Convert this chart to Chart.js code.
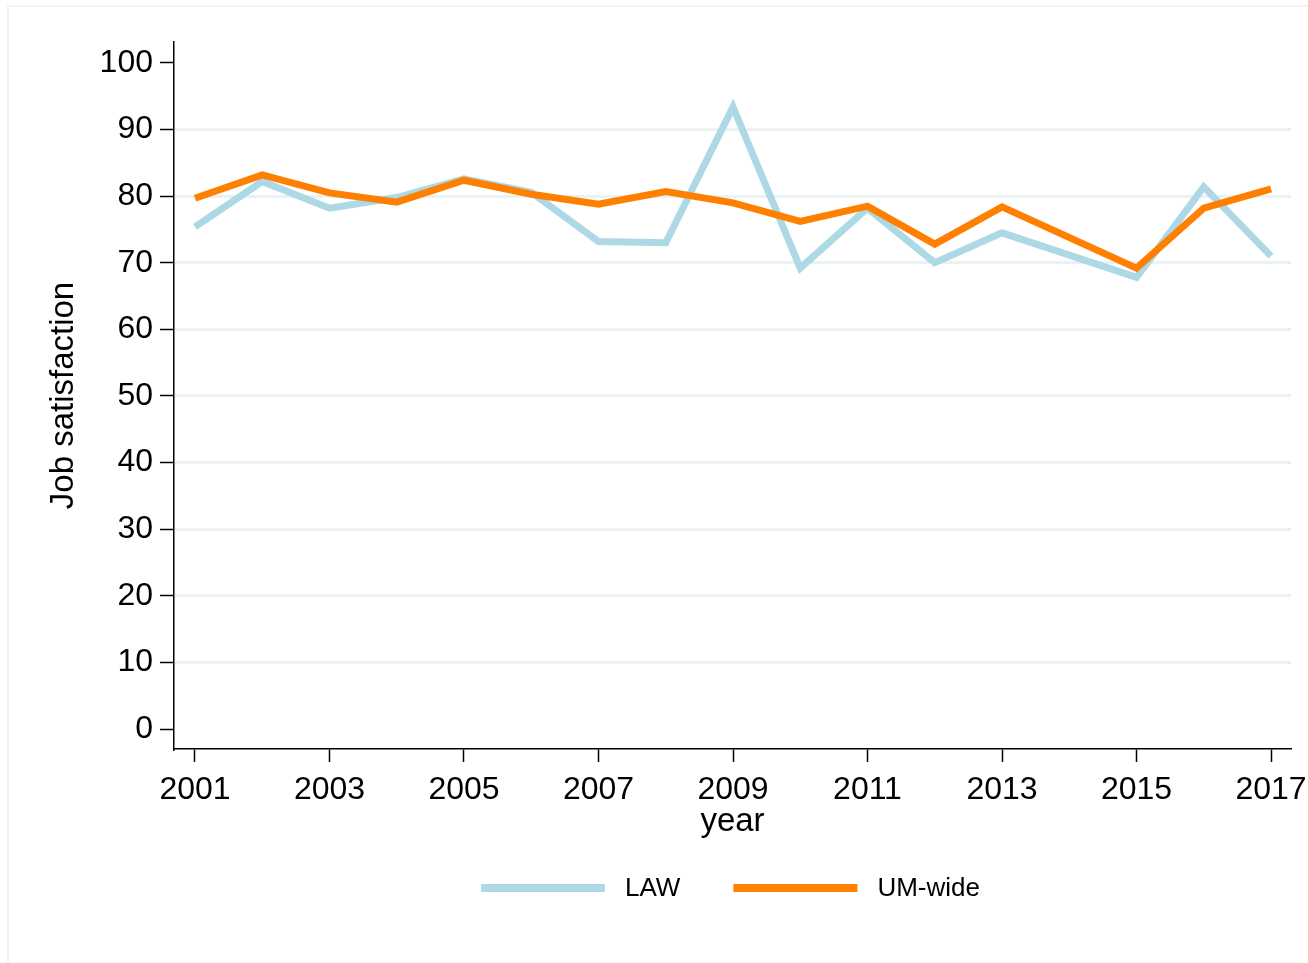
<!DOCTYPE html>
<html>
<head>
<meta charset="utf-8">
<script src="https://cdn.jsdelivr.net/npm/chart.js@4/dist/chart.umd.min.js"></script>
<style>
  html, body { margin: 0; padding: 0; background: #ffffff; }
  #wrap { width: 1308px; height: 963px; position: relative; }
</style>
</head>
<body>
<div id="wrap"><canvas id="c" width="1308" height="963"></canvas></div>
<script>
const years = [2001, 2002, 2003, 2004, 2005, 2006, 2007, 2008, 2009, 2010, 2011, 2012, 2013, 2014, 2015, 2016, 2017];
const lawValues = [75.4, 82.2, 78.2, 79.8, 82.6, 80.6, 73.2, 73.0, 93.4, 69.2, 78.2, 70.0, 74.5, null, 67.8, 81.4, 71.0];
const umValues  = [79.7, 83.2, 80.5, 79.1, 82.4, 80.3, 78.8, 80.7, 79.0, 76.2, 78.5, 72.8, 78.4, null, 69.2, 78.2, 81.1];
const xTickValues = [2001, 2003, 2005, 2007, 2009, 2011, 2013, 2015, 2017];
const yTickValues = [0, 10, 20, 30, 40, 50, 60, 70, 80, 90, 100];
const seriesNames = ['LAW', 'UM-wide'];
const seriesColors = ['#add8e6', '#ff8000'];

const FONT = '"Liberation Sans", Arial, Helvetica, sans-serif';

function toPoints(vals) {
  return years.map((y, i) => ({ x: y, y: vals[i] }));
}

const frame = {
  id: 'frame',
  beforeDraw(chart) {
    const ctx = chart.ctx;
    ctx.save();
    ctx.fillStyle = '#ffffff';
    ctx.fillRect(0, 0, chart.width, chart.height);
    ctx.strokeStyle = '#eaf2f3';
    ctx.lineWidth = 1.5;
    ctx.beginPath();
    ctx.moveTo(8, chart.height + 2);
    ctx.lineTo(8, 6);
    ctx.lineTo(chart.width + 2, 6);
    ctx.stroke();
    ctx.restore();
  }
};

const customLegend = {
  id: 'customLegend',
  afterDraw(chart) {
    const ctx = chart.ctx;
    const ca = chart.chartArea;
    const cx = (ca.left + ca.right) / 2 - 2;
    const y = 888;
    const lineLen = 124, gapText = 20, gapItem = 53;
    ctx.save();
    ctx.font = '26px ' + FONT;
    ctx.textBaseline = 'middle';
    ctx.textAlign = 'left';
    const items = chart.data.datasets.map(d => ({ label: d.label, color: d.borderColor, w: ctx.measureText(d.label).width }));
    let total = 0;
    items.forEach((it, i) => { total += lineLen + gapText + it.w + (i < items.length - 1 ? gapItem : 0); });
    let x = cx - total / 2;
    items.forEach(it => {
      ctx.strokeStyle = it.color;
      ctx.lineWidth = 8;
      ctx.lineCap = 'butt';
      ctx.beginPath();
      ctx.moveTo(x, y);
      ctx.lineTo(x + lineLen, y);
      ctx.stroke();
      x += lineLen + gapText;
      ctx.fillStyle = '#000000';
      ctx.fillText(it.label, x, y + 1);
      x += it.w + gapItem;
    });
    ctx.restore();
  }
};

new Chart(document.getElementById('c'), {
  type: 'line',
  data: {
    datasets: [
      { label: seriesNames[0], data: toPoints(lawValues), borderColor: seriesColors[0], backgroundColor: seriesColors[0], borderWidth: 7, pointRadius: 0, tension: 0, spanGaps: true, borderJoinStyle: 'miter', borderCapStyle: 'butt', order: 2 },
      { label: seriesNames[1], data: toPoints(umValues), borderColor: seriesColors[1], backgroundColor: seriesColors[1], borderWidth: 7, pointRadius: 0, tension: 0, spanGaps: true, borderJoinStyle: 'miter', borderCapStyle: 'butt', order: 1 }
    ]
  },
  options: {
    responsive: false,
    animation: false,
    devicePixelRatio: 1,
    layout: { padding: { left: 0, top: 42, right: 17, bottom: 121 } },
    plugins: { legend: { display: false }, tooltip: { enabled: false } },
    scales: {
      x: {
        type: 'linear',
        min: 2000.688,
        max: 2017.297,
        afterBuildTicks: s => { s.ticks = xTickValues.map(v => ({ value: v })); },
        afterFit: s => { s.height = 93; s.paddingLeft = 0; s.paddingRight = 0; },
        grid: { display: true, drawOnChartArea: false, drawTicks: true, tickLength: 13, tickColor: '#000000', tickWidth: 1.5 },
        border: { display: true, color: '#000000', width: 1.5 },
        ticks: { color: '#000000', font: { family: FONT, size: 32 }, padding: 9, maxRotation: 0, autoSkip: false, callback: v => String(v) },
        title: { display: true, text: 'year', color: '#000000', font: { family: FONT, size: 33 }, padding: { top: 0, bottom: 0 } }
      },
      y: {
        type: 'linear',
        min: -3.0,
        max: 103.15,
        afterBuildTicks: s => { s.ticks = yTickValues.map(v => ({ value: v })); },
        afterFit: s => { s.width = 174; },
        grid: {
          display: true,
          drawOnChartArea: true,
          drawTicks: true,
          tickLength: 14,
          tickColor: '#000000',
          tickWidth: 1.5,
          lineWidth: 3,
          color: ctx => (ctx.tick && (ctx.tick.value === 0 || ctx.tick.value === 100)) ? 'rgba(0,0,0,0)' : '#eaf2f3'
        },
        border: { display: true, color: '#000000', width: 1.5 },
        ticks: { color: '#000000', font: { family: FONT, size: 32 }, padding: 7, autoSkip: false, callback: v => String(v) },
        title: { display: true, text: 'Job satisfaction', color: '#000000', font: { family: FONT, size: 33 }, padding: { top: 44, bottom: 0 } }
      }
    }
  },
  plugins: [frame, customLegend]
});
</script>
</body>
</html>
